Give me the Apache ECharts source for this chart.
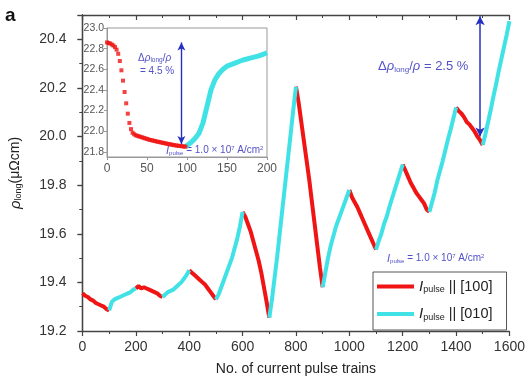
<!DOCTYPE html>
<html>
<head>
<meta charset="utf-8">
<script src="https://cdn.jsdelivr.net/npm/echarts@6/dist/echarts.min.js"></script>
<style>html,body{margin:0;padding:0;background:#fff;}#c{width:528px;height:381px;}</style>
</head>
<body>
<div id="c"></div>
<script>
// ---- main panel: rho_long vs number of current pulse trains (step 10) ----
const rhoLong = [
  19.355, 19.345, 19.34, 19.33, 19.325, 19.315, 19.31, 19.305, 19.30, 19.29,
  19.285, 19.32, 19.33, 19.335, 19.34, 19.345, 19.35, 19.355, 19.36, 19.37,
  19.375, 19.385, 19.375, 19.38, 19.375, 19.37, 19.365, 19.36, 19.355, 19.345,
  19.34, 19.35, 19.36, 19.365, 19.37, 19.38, 19.39, 19.40, 19.415, 19.43,
  19.45, 19.44, 19.43, 19.42, 19.41, 19.40, 19.39, 19.375, 19.36, 19.345,
  19.33, 19.35, 19.38, 19.41, 19.44, 19.47, 19.50, 19.54, 19.58, 19.63,
  19.69, 19.67, 19.64, 19.61, 19.57, 19.53, 19.49, 19.44, 19.38, 19.32,
  19.255, 19.33, 19.42, 19.51, 19.61, 19.71, 19.81, 19.91, 20.01, 20.11,
  20.205, 20.14, 20.06, 19.98, 19.90, 19.82, 19.73, 19.64, 19.55, 19.46,
  19.38, 19.44, 19.50, 19.55, 19.59, 19.63, 19.66, 19.69, 19.72, 19.75,
  19.78, 19.75, 19.73, 19.71, 19.685, 19.66, 19.635, 19.61, 19.585, 19.56,
  19.535, 19.57, 19.60, 19.64, 19.67, 19.71, 19.745, 19.78, 19.815, 19.85,
  19.885, 19.86, 19.835, 19.81, 19.79, 19.77, 19.755, 19.74, 19.725, 19.70,
  19.69, 19.73, 19.77, 19.82, 19.86, 19.90, 19.945, 19.99, 20.03, 20.075,
  20.12, 20.105, 20.095, 20.08, 20.06, 20.05, 20.035, 20.02, 20.00, 19.985,
  19.965, 20.01, 20.06, 20.11, 20.165, 20.215, 20.27, 20.32, 20.37, 20.42,
  20.475
];
const pulseStep = 10;
const pulseTrains = rhoLong.map((_, i) => i * pulseStep);
const xTicksMain = [0, 200, 400, 600, 800, 1000, 1200, 1400, 1600];
const yTicksMain = [19.2, 19.4, 19.6, 19.8, 20.0, 20.2, 20.4];

// ---- inset ----
const insetRedX = [0,2,4,6,8,10,12,14,16,18,20,22,24,26,28,30,32,34,36,38,40,42,44,46,48,50,52,54,56,58,60,62,64,66,68,70,72,74,76,78,80,82,84,86,88,90,92,94,96,98];
const insetRedY = [22.86,22.855,22.85,22.84,22.83,22.815,22.79,22.75,22.68,22.59,22.49,22.38,22.27,22.17,22.08,22.02,21.985,21.97,21.96,21.955,21.95,21.945,21.94,21.935,21.93,21.925,21.92,21.915,21.912,21.908,21.905,21.90,21.897,21.894,21.89,21.887,21.884,21.88,21.877,21.874,21.871,21.868,21.865,21.862,21.86,21.858,21.856,21.854,21.852,21.85];
const insetCyanX = [98,100,105,110,115,120,125,130,135,140,145,150,155,160,165,170,175,180,185,190,195,200];
const insetCyanY = [21.85,21.855,21.89,21.93,21.98,22.08,22.24,22.40,22.50,22.56,22.60,22.63,22.645,22.66,22.675,22.69,22.70,22.71,22.72,22.73,22.745,22.76];
const insetYTicks = [21.8, 22.0, 22.2, 22.4, 22.6, 22.8, 23.0];
const insetArrow = [93, 21.875, 22.86];
const mainArrow = [1490, 20.0, 20.495];

const RED = '#f01414';
const CYAN = '#40e2e6';
const BLUE = '#2530c0';
const ANN = '#5252c8';
const FONT = 'Liberation Sans, Arial, Helvetica, sans-serif';

function segOf(i) {
  const n = rhoLong.length - 1;
  const a = Math.min(Math.floor(i / 10), n / 10 - 1);
  const b = (i % 10 === 0 && i > 0) ? i / 10 - 1 : a;
  return [a, b];
}
const redData = [], cyanData = [];
rhoLong.forEach((v, i) => {
  const [a, b] = segOf(i);
  const x = pulseTrains[i];
  redData.push((a % 2 === 0 || b % 2 === 0) ? [x, v] : [x, '-']);
  cyanData.push((a % 2 === 1 || b % 2 === 1) ? [x, v] : [x, '-']);
});
const insetRed = insetRedX.map((x, i) => [x, insetRedY[i]]);
const insetCyan = insetCyanX.map((x, i) => [x, insetCyanY[i]]);

const chart = echarts.init(document.getElementById('c'), null, {renderer: 'canvas'});
const axisColor = '#444';
const subRich = {
  i: {fontStyle: 'italic', fontSize: 15, fontFamily: FONT, color: '#222'},
  s: {fontSize: 9, fontFamily: FONT, color: '#222', padding: [7, 0, 0, 0]},
  t: {fontSize: 14.5, fontFamily: FONT, color: '#222'}
};
function pulseText(size, color) {
  return {
    type: 'text',
    style: {
      rich: {
        i: {fontStyle: 'italic', fontSize: size + 1, fontFamily: FONT, fill: color},
        s: {fontSize: size - 4, fontFamily: FONT, fill: color, padding: [5, 0, 0, 0]},
        t: {fontSize: size, fontFamily: FONT, fill: color},
        u: {fontSize: size - 4, fontFamily: FONT, fill: color, padding: [0, 0, 5, 0]}
      },
      text: '{i|I}{s|pulse}{t| = 1.0 × 10}{u|7}{t| A/cm}{u|2}'
    }
  };
}

chart.setOption({
  animation: false,
  backgroundColor: '#fff',
  grid: [
    {left: 81, right: 18, top: 15, bottom: 48},
    {left: 107, top: 28, width: 160, height: 129, show: true, borderColor: '#999', borderWidth: 1, backgroundColor: '#fff'}
  ],
  legend: {
    orient: 'vertical',
    left: 373, top: 272,
    padding: [7, 14, 8, 4],
    itemGap: 12,
    itemWidth: 37, itemHeight: 4,
    icon: 'rect',
    borderColor: '#555', borderWidth: 1, backgroundColor: '#fff',
    data: ['I100', 'I010'],
    formatter: name => name === 'I100' ? '{i|I}{s|pulse}{t| || [100]}' : '{i|I}{s|pulse}{t| || [010]}',
    textStyle: {rich: subRich}
  },
  xAxis: [
    {
      type: 'value', gridIndex: 0, min: 0, max: 1600, interval: 200,
      name: 'No. of current pulse trains', nameLocation: 'middle', nameGap: 31,
      nameTextStyle: {fontSize: 14, fontFamily: FONT, color: '#222'},
      axisLine: {lineStyle: {color: axisColor, width: 1.3}},
      axisTick: {length: 5, lineStyle: {color: axisColor, width: 1.2}},
      minorTick: {show: true, splitNumber: 2, length: 3, lineStyle: {color: axisColor, width: 1}},
      axisLabel: {fontSize: 14, fontFamily: FONT, color: '#333', margin: 9, customValues: xTicksMain, formatter: v => String(v)},
      splitLine: {show: false}
    },
    {
      type: 'value', gridIndex: 0, position: 'top', min: 0, max: 1600, interval: 200,
      axisLine: {lineStyle: {color: axisColor, width: 1.3}},
      axisTick: {inside: true, length: 5, lineStyle: {color: axisColor, width: 1.2}},
      minorTick: {show: true, splitNumber: 2, length: 3, lineStyle: {color: axisColor}},
      axisLabel: {show: false}, splitLine: {show: false}
    },
    {
      type: 'value', gridIndex: 1, min: 0, max: 200, interval: 50,
      axisLine: {lineStyle: {color: '#999', width: 1}},
      axisTick: {length: 3, lineStyle: {color: '#999'}},
      axisLabel: {fontSize: 12, fontFamily: FONT, color: '#555', margin: 6},
      splitLine: {show: false}
    }
  ],
  yAxis: [
    {
      type: 'value', gridIndex: 0, min: 19.2, max: 20.5, interval: 0.2,
      name: '{r|ρ}{s|long}{t|(μΩcm)}', nameLocation: 'middle', nameGap: 59,
      nameTextStyle: {
        rich: {
          r: {fontStyle: 'italic', fontSize: 15, fontFamily: FONT, color: '#222'},
          s: {fontSize: 9, fontFamily: FONT, color: '#222', padding: [7, 0, 0, 0]},
          t: {fontSize: 14, fontFamily: FONT, color: '#222'}
        }
      },
      axisLine: {lineStyle: {color: axisColor, width: 1.3}},
      axisTick: {length: 5, lineStyle: {color: axisColor, width: 1.2}},
      minorTick: {show: true, splitNumber: 2, length: 3, lineStyle: {color: axisColor}},
      axisLabel: {fontSize: 14, fontFamily: FONT, color: '#333', margin: 16, customValues: yTicksMain, formatter: v => v.toFixed(1)},
      splitLine: {show: false}
    },
    {
      type: 'value', gridIndex: 0, position: 'right', min: 19.2, max: 20.5, interval: 0.2,
      axisLine: {lineStyle: {color: axisColor, width: 1.3}},
      axisTick: {inside: true, length: 5, lineStyle: {color: axisColor, width: 1.2}},
      minorTick: {show: true, splitNumber: 2, length: 3, lineStyle: {color: axisColor}},
      axisLabel: {show: false}, splitLine: {show: false}
    },
    {
      type: 'value', gridIndex: 1, min: 21.75, max: 23.0,
      axisLine: {lineStyle: {color: '#999', width: 1}},
      axisTick: {length: 3, lineStyle: {color: '#999'}, customValues: insetYTicks},
      axisLabel: {fontSize: 10.5, fontFamily: FONT, color: '#555', margin: 3, customValues: insetYTicks, formatter: v => v.toFixed(1)},
      splitLine: {show: false}
    }
  ],
  series: [
    {
      name: 'I100', type: 'line', xAxisIndex: 0, yAxisIndex: 0, data: redData,
      showSymbol: false, lineStyle: {color: RED, width: 4}, itemStyle: {color: RED}, z: 3,
      markLine: {
        silent: true, symbol: ['arrow', 'arrow'], symbolSize: [7, 9],
        label: {show: false}, lineStyle: {color: BLUE, width: 1.5, type: 'solid'},
        data: [[{coord: [mainArrow[0], mainArrow[1]]}, {coord: [mainArrow[0], mainArrow[2]]}]]
      }
    },
    {
      name: 'I010', type: 'line', xAxisIndex: 0, yAxisIndex: 0, data: cyanData,
      showSymbol: false, lineStyle: {color: CYAN, width: 4}, itemStyle: {color: CYAN}, z: 3
    },
    {
      name: 'insetRed', type: 'scatter', xAxisIndex: 2, yAxisIndex: 2, data: insetRed,
      symbol: 'rect', symbolSize: 4, itemStyle: {color: RED}, z: 5,
      markLine: {
        silent: true, symbol: ['arrow', 'arrow'], symbolSize: [6, 8],
        label: {show: false}, lineStyle: {color: BLUE, width: 1.4, type: 'solid'},
        data: [[{coord: [insetArrow[0], insetArrow[1]]}, {coord: [insetArrow[0], insetArrow[2]]}]]
      }
    },
    {
      name: 'insetCyan', type: 'line', xAxisIndex: 2, yAxisIndex: 2, data: insetCyan,
      showSymbol: false, lineStyle: {color: CYAN, width: 5}, z: 4
    }
  ],
  graphic: [
    {type: 'text', left: 5, top: 6, style: {text: 'a', fontSize: 19, fontWeight: 'bold', fontFamily: FONT, fill: '#111'}},
    {
      type: 'text', left: 378, top: 60,
      style: {
        rich: {
          d: {fontSize: 13, fontFamily: FONT, fill: ANN},
          r: {fontSize: 13, fontStyle: 'italic', fontFamily: FONT, fill: ANN},
          s: {fontSize: 8, fontFamily: FONT, fill: ANN, padding: [6, 0, 0, 0]}
        },
        text: '{d|Δ}{r|ρ}{s|long}{d|/}{r|ρ}{d| = 2.5 %}'
      }
    },
    {
      type: 'text', left: 138, top: 53,
      style: {
        rich: {
          d: {fontSize: 10, fontFamily: FONT, fill: ANN},
          r: {fontSize: 10, fontStyle: 'italic', fontFamily: FONT, fill: ANN},
          s: {fontSize: 6.5, fontFamily: FONT, fill: ANN, padding: [5, 0, 0, 0]}
        },
        text: '{d|Δ}{r|ρ}{s|long}{d|/}{r|ρ}'
      }
    },
    {type: 'text', left: 140, top: 66, style: {text: '= 4.5 %', fontSize: 10, fontFamily: FONT, fill: ANN}},
    Object.assign(pulseText(10, ANN), {left: 166, top: 145}),
    Object.assign(pulseText(10, ANN), {left: 387, top: 253})
  ]
});
</script>
</body>
</html>
